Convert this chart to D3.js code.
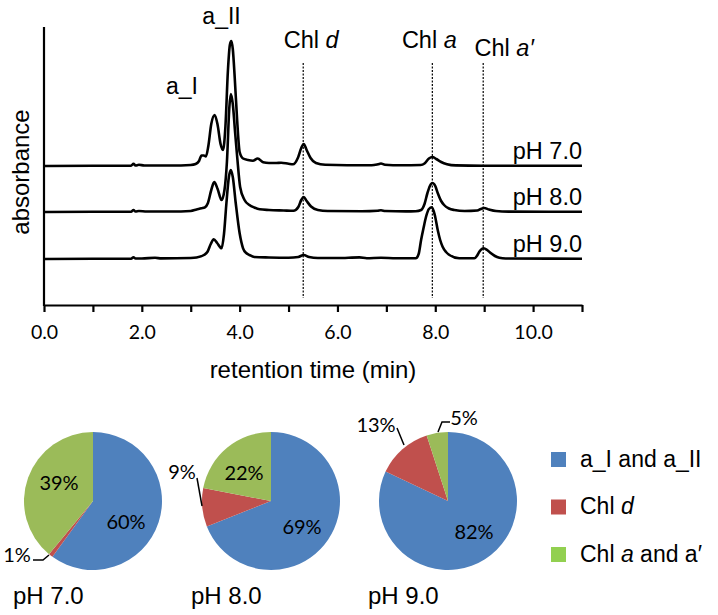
<!DOCTYPE html>
<html><head><meta charset="utf-8">
<script src="https://cdn.jsdelivr.net/npm/d3@7"></script>
<style>
html,body{margin:0;padding:0;background:#fff;}
svg{display:block;}
.arial{font-family:"Liberation Sans",Arial,sans-serif;fill:#000;}
.cal{font-family:Lato,"Open Sans",sans-serif;fill:#000;}
</style></head>
<body>
<svg id="c" width="718" height="615"></svg>
<script>
// ---------- DATA ----------
const traceNames = ["pH 7.0", "pH 8.0", "pH 9.0"];
const traceOffsets = [139, 93, 46];   // stacking offset of each trace (a.u.)
const trace_pH70 = [[0,0],[1.0,0.2],[1.78,0.3],[1.83,2.2],[1.87,0.5],[1.94,1.2],[2.05,0.5],[2.6,0.5],[3.0,1],[3.1,2],[3.17,5],[3.22,10.5],[3.27,10.5],[3.31,9.5],[3.36,20],[3.42,42],[3.49,51],[3.55,41],[3.61,22],[3.66,16],[3.71,40],[3.76,95],[3.8,121],[3.83,125],[3.86,117],[3.9,88],[3.95,45],[4.0,14],[4.07,7.5],[4.17,6],[4.27,5.3],[4.37,7.5],[4.48,3.7],[4.6,3],[4.75,3],[4.85,3.3],[5.0,2.2],[5.09,1.7],[5.19,8],[5.26,18],[5.31,22],[5.37,16],[5.45,8],[5.56,3],[5.75,1.2],[6.2,0.8],[6.7,0.8],[6.83,1.8],[6.89,2.5],[6.97,1.3],[7.3,0.7],[7.7,1],[7.78,2.5],[7.87,7.5],[7.94,9],[8.02,7],[8.12,4],[8.24,1.8],[8.42,0.6],[9.0,0.3],[11,0.2]];
const trace_pH80 = [[0,0],[1.0,0.2],[1.78,0.3],[1.83,2],[1.87,0.5],[1.94,1],[2.1,0.5],[2.6,0.5],[3.0,1],[3.12,2.5],[3.22,3.7],[3.29,4.7],[3.35,8.7],[3.42,22],[3.48,30],[3.55,23],[3.63,12],[3.69,22],[3.74,50],[3.79,105],[3.82,118],[3.86,108],[3.91,78],[3.95,55],[4.01,25],[4.1,12],[4.2,7],[4.3,4.5],[4.41,2.7],[4.6,2],[4.9,1.5],[5.1,1.2],[5.2,5],[5.26,12],[5.31,15],[5.37,11],[5.46,5.5],[5.6,2],[5.8,1],[6.5,0.8],[6.82,1.3],[6.89,1.7],[6.98,1],[7.4,0.6],[7.6,0.8],[7.71,2],[7.78,8],[7.84,19],[7.89,26],[7.94,29],[8.0,26],[8.05,19],[8.12,11],[8.18,7],[8.28,3.5],[8.39,2],[8.6,1],[8.86,1.5],[8.93,3],[9.0,4],[9.1,2.5],[9.24,1],[9.5,0.4],[11,0.2]];
const trace_pH90 = [[0,0],[1.0,0.2],[1.78,0.3],[1.83,1.8],[1.87,0.5],[2.0,0.5],[2.27,1.2],[2.4,0.6],[3.0,1],[3.12,1.5],[3.27,4],[3.34,7],[3.41,15],[3.47,19.7],[3.54,16],[3.63,10.7],[3.68,25],[3.73,56],[3.78,82],[3.82,89],[3.86,82],[3.92,56],[4.0,25.7],[4.07,10.7],[4.14,5.7],[4.2,4],[4.3,2],[4.6,1.5],[5.0,1.2],[5.2,2],[5.31,4],[5.42,2],[5.6,1],[6.0,1],[6.45,1.6],[6.6,0.8],[6.89,1.2],[7.2,0.7],[7.6,0.7],[7.66,5],[7.71,19],[7.76,31],[7.81,42],[7.87,50],[7.93,51.7],[7.99,44],[8.05,29],[8.1,19],[8.15,12.3],[8.22,7],[8.29,4],[8.49,0.7],[8.8,0.7],[8.85,3],[8.9,7.3],[8.95,10],[8.99,10.7],[9.06,9],[9.14,5.7],[9.22,3],[9.31,1.3],[9.44,0.5],[11,0.3]];
const traces = [trace_pH70, trace_pH80, trace_pH90];

const xTicks = [0,1,2,3,4,5,6,7,8,9,10,11];
const xTickLabels = ["0.0","","2.0","","4.0","","6.0","","8.0","","10.0",""];
const markerTimes = [5.3, 7.94, 8.98];        // Chl d, Chl a, Chl a'
const peakLabelTimes = {aI: 2.82, aII: 3.63};

const pieNames = ["pH 7.0", "pH 8.0", "pH 9.0"];
const pieCategories = ["a_I and a_II", "Chl d", "Chl a and a\u2032"];
const pie_pH70 = [60, 1, 39];
const pie_pH80 = [69, 9, 22];
const pie_pH90 = [82, 13, 5];
const pies = [pie_pH70, pie_pH80, pie_pH90];

// ---------- LAYOUT ----------
const svg = d3.select("#c");
const M = {left:44, right:582, top:27, bottom:305};
const x = d3.scaleLinear().domain([0,11]).range([M.left, M.right]);
const y = d3.scaleLinear().domain([0,278]).range([M.bottom, M.top]);

// dotted marker lines
svg.append("g").selectAll("line").data(markerTimes).join("line")
  .attr("x1", d=>x(d)).attr("x2", d=>x(d))
  .attr("y1", y(242)).attr("y2", y(7))
  .attr("stroke","#000").attr("stroke-width",1.2).attr("stroke-dasharray","2,1.5");

// traces
const line = d3.line().x(d=>x(d[0])).y(d=>d[1]).curve(d3.curveMonotoneX);
traces.forEach((tr,i)=>{
  const pts = tr.map(p=>[p[0], y(p[1]+traceOffsets[i])]);
  svg.append("path").attr("d", line(pts)).attr("fill","none")
    .attr("stroke","#000").attr("stroke-width",2.6).attr("stroke-linejoin","round");
  svg.append("text").attr("class","arial").attr("x", x(11)).attr("y", y(traceOffsets[i]) - 7)
    .attr("text-anchor","end").attr("font-size",23.5).text(traceNames[i]);
});

// axes
const xAxis = d3.axisBottom(x).tickValues(xTicks).tickSize(7).tickSizeOuter(0)
  .tickFormat((d,i)=>xTickLabels[i]);
const gx = svg.append("g").attr("transform",`translate(0,${M.bottom})`).call(xAxis);
gx.select(".domain").attr("stroke","#000").attr("stroke-width",2.2);
gx.selectAll(".tick line").attr("stroke","#000").attr("stroke-width",2.2);
gx.selectAll(".tick text").attr("class","cal").attr("font-size",19.5).attr("y",34).attr("dy","0")
  .attr("fill","#000");
gx.attr("font-family",null).attr("font-size",null);
svg.append("line").attr("x1",M.left).attr("x2",M.left).attr("y1",M.top).attr("y2",M.bottom+1)
  .attr("stroke","#000").attr("stroke-width",2.2);

// axis titles
svg.append("text").attr("class","arial").attr("font-size",24)
  .attr("text-anchor","middle").attr("x",313).attr("y",378).text("retention time (min)");
svg.append("text").attr("class","arial").attr("font-size",24)
  .attr("text-anchor","middle").attr("transform","translate(29,172) rotate(-90)").text("absorbance");

// peak labels
svg.append("text").attr("class","arial").attr("font-size",23).attr("text-anchor","middle")
  .attr("x", x(peakLabelTimes.aII)).attr("y",24).text("a_II");
svg.append("text").attr("class","arial").attr("font-size",23).attr("text-anchor","middle")
  .attr("x", x(peakLabelTimes.aI)).attr("y",94).text("a_I");
const chlLab = [
  {t:markerTimes[0], dx:8, yb:48, a:"Chl ", it:"d"},
  {t:markerTimes[1], dx:-3, yb:48, a:"Chl ", it:"a"},
  {t:markerTimes[2], dx:21, yb:56, a:"Chl ", it:"a\u2032"}
];
chlLab.forEach(l=>{
  const t = svg.append("text").attr("class","arial").attr("font-size",23.5).attr("text-anchor","middle")
    .attr("x", x(l.t)+l.dx).attr("y", l.yb);
  t.append("tspan").text(l.a);
  t.append("tspan").attr("font-style","italic").text(l.it);
});

// ---------- PIES ----------
const colors = ["#4F81BD","#C0504D","#9BBB59"];
const legendColors = ["#4F81BD","#C0504D","#92D050"];
const pieCenters = [[93,501],[271,501],[448,501]];
const R = 69;
// label placement (offsets from pie centre); leader given for outside labels
const labelLayout = [
  [{dx:33,dy:21},{dx:-76,dy:54,leader:[[-60,59],[-50,59],[-44,54]]},{dx:-34,dy:-18}],
  [{dx:31,dy:26},{dx:-89,dy:-29,leader:[[-74,-23],[-69,5]]},{dx:-27,dy:-28}],
  [{dx:26,dy:31},{dx:-72,dy:-76,leader:[[-51,-73],[-44,-56]]},{dx:16,dy:-83,leader:[[-10,-69],[-6,-79],[2,-79]]}]
];
const pieGen = d3.pie().sort(null).value(d=>d);
const arc = d3.arc().innerRadius(0).outerRadius(R);
pies.forEach((vals,pi)=>{
  const [cx,cy] = pieCenters[pi];
  const g = svg.append("g").attr("transform",`translate(${cx},${cy})`);
  g.selectAll("path").data(pieGen(vals)).join("path")
    .attr("d",arc).attr("fill",(d,i)=>colors[i]);
  vals.forEach((v,i)=>{
    const L = labelLayout[pi][i];
    if (L.leader) {
      g.append("path").attr("d", d3.line()(L.leader)).attr("fill","none")
        .attr("stroke","#000").attr("stroke-width",1.5);
    }
    g.append("text").attr("class","cal").attr("font-size",20).attr("text-anchor","middle")
      .attr("x",L.dx).attr("y",L.dy).attr("dy","0.36em").text(v+"%");
  });
  svg.append("text").attr("class","arial").attr("font-size",24)
    .attr("x",cx-80).attr("y",604).text(pieNames[pi]);
});

// legend
const lg = svg.append("g");
pieCategories.forEach((c,i)=>{
  const yy = 452 + i*47.5;
  lg.append("rect").attr("x",551).attr("y",yy).attr("width",15).attr("height",15).attr("fill",legendColors[i]);
  const t = lg.append("text").attr("class","arial").attr("font-size",23).attr("x",580).attr("y",yy+14.5);
  if (i===0) t.text(c);
  else if (i===1) { t.append("tspan").text("Chl "); t.append("tspan").attr("font-style","italic").text("d"); }
  else { t.append("tspan").text("Chl "); t.append("tspan").attr("font-style","italic").text("a"); t.append("tspan").text(" and a\u2032"); }
});
</script>
</body></html>
